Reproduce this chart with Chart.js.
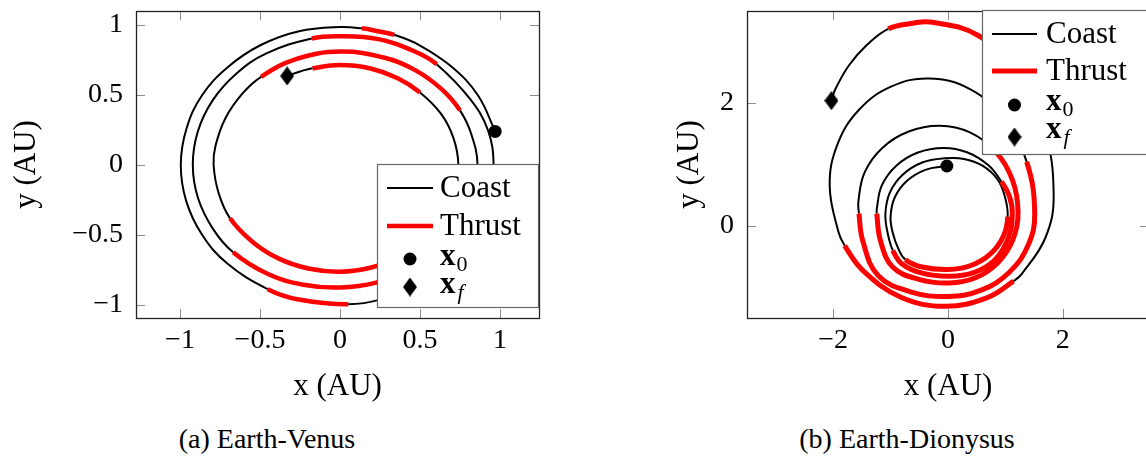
<!DOCTYPE html>
<html>
<head>
<meta charset="utf-8">
<script src="https://cdn.jsdelivr.net/npm/chart.js@4.4.1/dist/chart.umd.min.js"></script>
<style>
  html, body { margin: 0; padding: 0; background: #fff; overflow: hidden; }
  body { width: 1146px; height: 468px; position: relative; font-family: "Liberation Serif", serif; }
  .panel { position: absolute; top: 0; }
  #venus-wrap { left: 0; }
  #dion-wrap { left: 590px; }
  .caption { position: absolute; top: 423px; font: 28px "Liberation Serif", "Times New Roman", serif; color: #000; white-space: nowrap; transform: translateX(-50%); }
  .warm { position: absolute; left: -999px; top: 0; font-family: "Liberation Serif"; }
</style>
</head>
<body>
<span class="warm">Coast <b>x</b> <i>f</i></span>
<div class="panel" id="venus-wrap"><canvas id="chart-venus" width="573" height="420"></canvas></div>
<div class="panel" id="dion-wrap"><canvas id="chart-dion" width="600" height="420"></canvas></div>
<div class="caption" style="left:267px">(a) Earth-Venus</div>
<div class="caption" style="left:907px">(b) Earth-Dionysus</div>
<script>
// ---- (a) Earth-Venus : trajectory arcs, [x, y] in AU ----
const evCoast1 = [[0.970,0.242],[0.862,0.498],[0.700,0.700],[0.495,0.857],[0.339,0.930]];
const evThrust1 = [[0.339,0.930],[0.240,0.955],[0.137,0.976]];
const evCoast2 = [[0.137,0.976],[0,0.986],[-0.256,0.956],[-0.495,0.857],[-0.700,0.700],[-0.862,0.498],[-0.960,0.257],[-0.995,0],[-0.961,-0.258],[-0.862,-0.498],[-0.704,-0.704],[-0.452,-0.887]];
const evThrust2 = [[-0.452,-0.887],[-0.258,-0.961],[0.052,-0.995]];
const evCoast3 = [[0.052,-0.995],[0.257,-0.96],[0.495,-0.857],[0.693,-0.693],[0.840,-0.485],[0.932,-0.250],[0.960,0],[0.925,0.248],[0.814,0.470],[0.604,0.720]];
const evThrust3 = [[0.604,0.720],[0.468,0.811],[0.241,0.899],[0,0.92],[-0.176,0.904]];
const evCoast4 = [[-0.176,0.904],[-0.46,0.797],[-0.65,0.65],[-0.797,0.46],[-0.889,0.238],[-0.92,0],[-0.887,-0.238],[-0.793,-0.458],[-0.668,-0.623]];
const evThrust4 = [[-0.668,-0.623],[-0.45,-0.779],[-0.229,-0.855],[0,-0.875],[0.225,-0.84],[0.433,-0.749],[0.609,-0.609],[0.745,-0.43]];
const evCoast5 = [[0.745,-0.43],[0.831,-0.223],[0.86,0],[0.821,0.22],[0.75,0.39]];
const evThrust5 = [[0.75,0.39],[0.64,0.537],[0.473,0.676],[0.279,0.766],[0,0.81],[-0.275,0.756],[-0.493,0.63]];
const evCoast6 = [[-0.493,0.63],[-0.609,0.511],[-0.716,0.334],[-0.778,0.137],[-0.79,0],[-0.758,-0.203],[-0.687,-0.381]];
const evThrust6 = [[-0.687,-0.381],[-0.548,-0.548],[-0.385,-0.667],[-0.198,-0.739],[0,-0.762],[0.196,-0.732],[0.378,-0.654],[0.53,-0.53],[0.645,-0.373]];
const evCoast7 = [[0.645,-0.373],[0.717,-0.192],[0.74,0],[0.71,0.19],[0.632,0.365],[0.5,0.518]];
const evThrust7 = [[0.5,0.518],[0.358,0.621],[0.185,0.691],[0,0.714],[-0.172,0.691]];
const evCoast8 = [[-0.172,0.691],[-0.244,0.67],[-0.33,0.636]];
const evStart = [0.97, 0.24];
const evEnd = [-0.33, 0.636];
const evXTicks = [-1, -0.5, 0, 0.5, 1];
const evYTicks = [-1, -0.5, 0, 0.5, 1];

// ---- (b) Earth-Dionysus ----
const edCoast1 = [[-0.02,0.976],[-0.395,0.913],[-0.713,0.734],[-0.926,0.466],[-1.0,0.15],[-0.96,-0.12],[-0.86,-0.38],[-0.74,-0.55]];
const edThrust1 = [[-0.74,-0.55],[-0.45,-0.67],[0,-0.71],[0.398,-0.645],[0.735,-0.46],[0.961,-0.175],[1.04,0.15]];
const edCoast2 = [[1.04,0.15],[0.99,0.48],[0.86,0.76],[0.6,0.98],[0.28,1.09],[-0.05,1.10],[-0.448,1.032],[-0.785,0.836],[-1.011,0.545],[-1.09,0.2],[-1.05,-0.12],[-0.96,-0.40]];
const edThrust2 = [[-0.96,-0.40],[-0.8,-0.62],[-0.45,-0.77],[0.02,-0.82],[0.45,-0.76],[0.81,-0.56],[1.05,-0.2],[1.12,0.2],[1.07,0.48],[0.93,0.72]];
const edCoast3 = [[0.93,0.72],[0.7,0.99],[0.33,1.2],[-0.08,1.27],[-0.524,1.195],[-0.9,0.98],[-1.152,0.659],[-1.24,0.28],[-1.24,0.2]];
const edThrust3 = [[-1.24,0.2],[-1.177,-0.237],[-0.963,-0.67],[-0.509,-0.87],[0.02,-0.93],[0.48,-0.845],[0.868,-0.6],[1.129,-0.228],[1.22,0.22],[1.117,0.76],[0.822,1.217]];
const edCoast4 = [[0.822,1.217],[0.381,1.523],[-0.14,1.63],[-0.684,1.537],[-1.144,1.27],[-1.452,0.871],[-1.56,0.4],[-1.55,0.2]];
const edThrust4 = [[-1.55,0.2],[-1.482,-0.251],[-1.217,-0.809],[-0.655,-1.073],[0,-1.15],[0.578,-1.047],[1.068,-0.754],[1.395,-0.317],[1.51,0.2],[1.37,1.043]];
const edCoast5 = [[1.37,1.043],[0.971,1.755],[0.374,2.233],[-0.33,2.40],[-0.993,2.267],[-1.553,1.887],[-1.928,1.32],[-2.06,0.65],[-1.907,-0.10],[-1.80,-0.32]];
const edThrust5 = [[-1.80,-0.32],[-1.471,-0.736],[-0.82,-1.161],[-0.05,-1.31],[0.674,-1.172],[1.14,-0.90]];
const edCoast6 = [[1.14,-0.90],[1.286,-0.78],[1.696,-0.193],[1.84,0.5],[1.677,1.58]];
const edThrust6 = [[1.677,1.58],[1.213,2.494],[0.519,3.105],[-0.3,3.32],[-0.62,3.30],[-1.04,3.21]];
const edCoast7 = [[-1.04,3.21],[-1.41,2.95],[-1.72,2.62],[-1.95,2.25],[-2.03,2.06]];
const edStart = [-0.02, 0.976];
const edEnd = [-2.03, 2.04];
const edXTicks = [-2, 0, 2];
const edYTicks = [0, 2];

const FONT = '"Liberation Serif", serif';
Chart.defaults.font.family = FONT;
Chart.defaults.color = '#000';

// diamond marker (taller than wide, like the pgf one)
const diamond = document.createElement('canvas');
diamond.width = 14; diamond.height = 19;
(function () {
  const c = diamond.getContext('2d');
  c.fillStyle = '#000';
  c.beginPath();
  c.moveTo(7, 0); c.lineTo(14, 9.5); c.lineTo(7, 19); c.lineTo(0, 9.5);
  c.closePath(); c.fill();
})();

// one continuous path per figure; each arc keeps its coast / thrust flag
function joinArcs(arcs) {
  const pts = [], thrust = [];
  arcs.forEach(([a, isThrust], i) => {
    a.forEach((p, j) => {
      if (i > 0 && j === 0) return;
      pts.push({ x: p[0], y: p[1] });
      thrust.push(isThrust);
    });
  });
  return { pts, thrust };
}

function pathDataset(arcs, redWidth) {
  const { pts, thrust } = joinArcs(arcs);
  return {
    data: pts,
    showLine: true,
    borderColor: '#000',
    borderWidth: 2,
    borderCapStyle: 'butt',
    pointRadius: 0,
    tension: 0.4,
    fill: false,
    order: 1,
    segment: {
      borderColor: (c) => (thrust[c.p1DataIndex] ? '#ff0000' : '#000000'),
      borderWidth: (c) => (thrust[c.p1DataIndex] ? redWidth : 2)
    }
  };
}

function marker(p, style) {
  return {
    data: [{ x: p[0], y: p[1] }],
    showLine: false,
    pointStyle: style,
    pointRadius: 6.5,
    backgroundColor: '#000',
    borderColor: '#000',
    borderWidth: 0,
    order: 0
  };
}

const fmtTick = (v) => (v < 0 ? '\u2212' : '') + Math.abs(v);

// frame + inward tick marks on all four sides
const framePlugin = {
  id: 'frame',
  afterDatasetsDraw(chart, args, opts) {
    const { ctx, chartArea: a, scales } = chart;
    ctx.save();
    ctx.strokeStyle = '#8c8c8c';
    ctx.lineWidth = 1;
    ctx.beginPath();
    opts.xTicks.forEach((v) => {
      const px = Math.round(scales.x.getPixelForValue(v)) + 0.5;
      ctx.moveTo(px, a.bottom); ctx.lineTo(px, a.bottom - 9);
      ctx.moveTo(px, a.top); ctx.lineTo(px, a.top + 9);
    });
    opts.yTicks.forEach((v) => {
      const py = Math.round(scales.y.getPixelForValue(v)) + 0.5;
      ctx.moveTo(a.left, py); ctx.lineTo(a.left + 9, py);
      ctx.moveTo(a.right, py); ctx.lineTo(a.right - 9, py);
    });
    ctx.stroke();
    ctx.strokeStyle = '#222';
    ctx.lineWidth = 1.3;
    ctx.strokeRect(Math.round(a.left) + 0.5, Math.round(a.top) + 0.5, Math.round(a.right - a.left), Math.round(a.bottom - a.top));
    ctx.restore();
  }
};

// boxed legend drawn inside the axes
const legendPlugin = {
  id: 'boxLegend',
  afterDraw(chart, args, o) {
    const ctx = chart.ctx;
    ctx.save();
    ctx.fillStyle = '#fff';
    ctx.fillRect(o.x, o.y, o.w, o.h);
    ctx.strokeStyle = '#666';
    ctx.lineWidth = 1.2;
    ctx.strokeRect(o.x + 0.5, o.y + 0.5, o.w, o.h);

    ctx.lineCap = 'butt';
    ctx.strokeStyle = '#000'; ctx.lineWidth = 2;
    ctx.beginPath(); ctx.moveTo(o.lineX0, o.rows[0]); ctx.lineTo(o.lineX1, o.rows[0]); ctx.stroke();
    ctx.strokeStyle = '#ff0000'; ctx.lineWidth = o.redWidth;
    ctx.beginPath(); ctx.moveTo(o.lineX0, o.rows[1]); ctx.lineTo(o.lineX1, o.rows[1]); ctx.stroke();

    const mx = (o.lineX0 + o.lineX1) / 2;
    ctx.fillStyle = '#000';
    ctx.beginPath(); ctx.arc(mx, o.rows[2], 6.5, 0, Math.PI * 2); ctx.fill();
    ctx.drawImage(diamond, mx - 7, o.rows[3] - 9.5);

    ctx.textBaseline = 'alphabetic';
    ctx.textAlign = 'left';
    ctx.font = '31px ' + FONT;
    ctx.fillText('Coast', o.textX, o.base[0]);
    ctx.fillText('Thrust', o.textX, o.base[1]);
    ctx.font = 'bold 31px ' + FONT;
    ctx.fillText('x', o.textX, o.base[2]);
    ctx.fillText('x', o.textX, o.base[3]);
    const xw = ctx.measureText('x').width;
    ctx.font = '22px ' + FONT;
    ctx.fillText('0', o.textX + xw + 1, o.base[2] + 6);
    ctx.font = 'italic 22px ' + FONT;
    ctx.fillText('f', o.textX + xw + 2, o.base[3] + 6);
    ctx.restore();
  }
};

function build(canvasId, arcs, start, end, cfg) {
  const datasets = [marker(start, 'circle'), marker(end, diamond), pathDataset(arcs, cfg.redWidth)];
  const titleFont = { size: 31, family: FONT };
  return new Chart(document.getElementById(canvasId), {
    type: 'scatter',
    data: { datasets },
    options: {
      responsive: false,
      animation: false,
      events: [],
      layout: { padding: { top: 11, right: cfg.padRight, left: 0, bottom: 0 } },
      plugins: {
        legend: { display: false },
        tooltip: { enabled: false },
        frame: { xTicks: cfg.xTicks, yTicks: cfg.yTicks },
        boxLegend: Object.assign({ redWidth: cfg.redWidth }, cfg.legend)
      },
      scales: {
        x: {
          type: 'linear', min: cfg.xMin, max: cfg.xMax,
          grid: { display: false, drawTicks: false },
          border: { display: false },
          ticks: { font: { size: 28, family: FONT }, padding: 6, maxRotation: 0, callback: fmtTick },
          afterBuildTicks: (s) => { s.ticks = cfg.xTicks.map((v) => ({ value: v })); },
          afterFit: (s) => { s.height = 102; s.paddingLeft = 0; s.paddingRight = 0; },
          title: { display: true, text: 'x (AU)', font: titleFont, padding: { top: 0, bottom: 15 } }
        },
        y: {
          type: 'linear', min: cfg.yMin, max: cfg.yMax,
          grid: { display: false, drawTicks: false },
          border: { display: false },
          ticks: { font: { size: 28, family: FONT }, padding: 13, callback: fmtTick },
          afterBuildTicks: (s) => { s.ticks = cfg.yTicks.map((v) => ({ value: v })); },
          afterFit: (s) => { s.width = cfg.yWidth; s.paddingTop = 0; s.paddingBottom = 0; },
          title: { display: true, text: 'y (AU)', font: titleFont, padding: { top: cfg.yTitlePad, bottom: 0 } }
        }
      }
    },
    plugins: [framePlugin, legendPlugin]
  });
}

function drawAll() {
  build('chart-venus', [
    [evCoast1, false], [evThrust1, true], [evCoast2, false], [evThrust2, true],
    [evCoast3, false], [evThrust3, true], [evCoast4, false], [evThrust4, true],
    [evCoast5, false], [evThrust5, true], [evCoast6, false], [evThrust6, true],
    [evCoast7, false], [evThrust7, true], [evCoast8, false]
  ], evStart, evEnd, {
    xMin: -1.275, xMax: 1.244, yMin: -1.093, yMax: 1.1,
    xTicks: evXTicks, yTicks: evYTicks, redWidth: 4.5,
    padRight: 34, yWidth: 136, yTitlePad: 8,
    legend: { x: 377, y: 164, w: 161, h: 143, lineX0: 387, lineX1: 433, textX: 440,
              rows: [188, 226, 259, 287], base: [197, 235, 265, 293] }
  });

  build('chart-dion', [
    [edCoast1, false], [edThrust1, true], [edCoast2, false], [edThrust2, true],
    [edCoast3, false], [edThrust3, true], [edCoast4, false], [edThrust4, true],
    [edCoast5, false], [edThrust5, true], [edCoast6, false], [edThrust6, true],
    [edCoast7, false]
  ], edStart, edEnd, {
    xMin: -3.5, xMax: 3.5, yMin: -1.5, yMax: 3.5,
    xTicks: edXTicks, yTicks: edYTicks, redWidth: 5,
    padRight: 41, yWidth: 157, yTitlePad: 81,
    legend: { x: 392, y: 10, w: 220, h: 144, lineX0: 402, lineX1: 447, textX: 456,
              rows: [34, 71, 105, 137], base: [43, 80, 110, 138] }
  });
}

const fontLoads = ['28px "Liberation Serif"', 'bold 31px "Liberation Serif"', 'italic 22px "Liberation Serif"']
  .map((f) => document.fonts.load(f).catch(() => null));
Promise.all(fontLoads).then(drawAll, drawAll);
</script>
</body>
</html>
